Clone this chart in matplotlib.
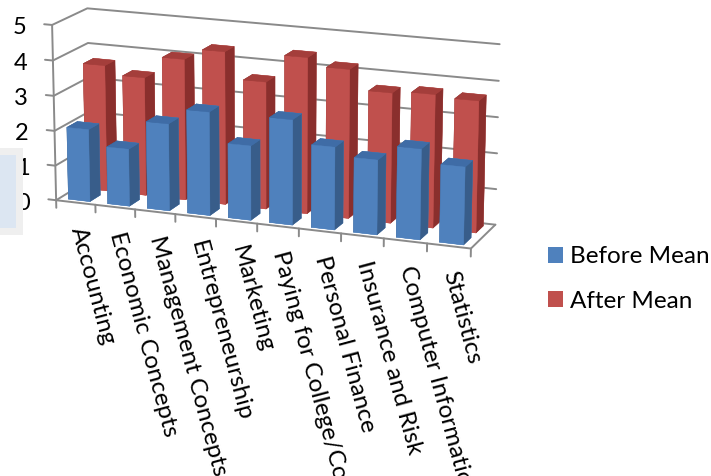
import numpy as np
import matplotlib
matplotlib.use("Agg")
import matplotlib.pyplot as plt
from matplotlib.transforms import offset_copy
from matplotlib.patches import Patch, Rectangle

# ---------------- data ----------------
categories = [
    "Accounting",
    "Economic Concepts",
    "Management Concepts",
    "Entrepreneurship",
    "Marketing",
    "Paying for College/College Costs",
    "Personal Finance",
    "Insurance and Risk",
    "Computer Information Systems",
    "Statistics",
]
series_names = ["Before Mean", "After Mean"]
before_mean = [2.07, 1.63, 2.47, 2.92, 2.09, 2.94, 2.30, 2.07, 2.50, 2.13]
after_mean = [3.63, 3.39, 4.02, 4.34, 3.60, 4.39, 4.17, 3.63, 3.70, 3.64]
value_ticks = [0, 1, 2, 3, 4, 5]

# ---------------- style ----------------
W, H, DPI = 711, 476, 100
plt.rcParams["font.family"] = ["Lato", "DejaVu Sans"]
FS = 17
FS_CAT = 17.5
FS_LEG = 17.5
blue = dict(front="#4F81BD", top="#3F6CA6", side="#385D8A")
red = dict(front="#C0504D", top="#A43E3B", side="#8A2F2D")
grid_c = "#8A8A8A"

fig = plt.figure(figsize=(W / DPI, H / DPI), dpi=DPI)
S0 = 400.0
ax = fig.add_axes([0, 0, S0 / W, S0 / H], projection="3d", computed_zorder=False)
ax.set_proj_type("persp", focal_length=1.0)
ax.view_init(elev=15.1, azim=-68.7)
n = len(categories)
depth = 1.0
zmax = value_ticks[-1]
ax.set_xlim(0, n)
ax.set_ylim(0, depth)
ax.set_zlim(0, zmax)
ax.set_box_aspect((443, 82.6, 184))
ax.set_axis_off()
ax.patch.set_alpha(0)


def project(x, y, z):
    M = ax.get_proj()
    p = M @ np.array([x, y, z, 1.0])
    return p[0] / p[3], p[1] / p[3]


# ---- place the plot box on the canvas (corner -> pixel, y from top) ----
corners = [(0, 0, 0), (n, 0, 0), (0, depth, 0), (n, depth, 0),
           (0, 0, zmax), (0, depth, zmax), (n, depth, zmax)]
corner_px = [(56, 200), (473, 247), (90, 186), (493, 222),
             (50, 25), (90, 13), (500, 37)]
rows_A, rows_b = [], []
for c, (tx, ty) in zip(corners, corner_px):
    d = ax.transData.transform(project(*c)) / S0
    rows_A.append([d[0], 1, 0]); rows_b.append(tx)
    rows_A.append([d[1], 0, 1]); rows_b.append(H - ty)
S, L, B = np.linalg.lstsq(np.array(rows_A), np.array(rows_b), rcond=None)[0]
ax.set_position([L / W, B / H, S / W, S / H])


def line3(pts, **kw):
    xs, ys, zs = zip(*pts)
    ax.plot(xs, ys, zs, **kw)


gkw = dict(color=grid_c, lw=1.4, zorder=1, solid_capstyle="round")
# walls: gridlines on the left and back walls, with value ticks
for v in value_ticks:
    line3([(-0.2, 0, v), (0, 0, v), (0, depth, v), (n, depth, v)], **gkw)
line3([(0, 0, 0), (0, 0, zmax)], **gkw)
# floor outline and category ticks
line3([(0, 0, 0), (n, 0, 0), (n, depth, 0)], **gkw)
for k in range(n + 1):
    line3([(k, 0, 0), (k, 0, -0.22)], **gkw)

# ---- bars ----
bw, bd = 0.55, 0.3
x0 = np.arange(n) + (1 - bw) / 2
xs, ys, hs, fcs = [], [], [], []
for vals, y0, pal in [(before_mean, 0.1, blue), (after_mean, 0.6, red)]:
    for i, v in enumerate(vals):
        xs.append(x0[i]); ys.append(y0); hs.append(v)
        # face order: -z, +z, -y, +y, -x, +x
        fcs += [pal["front"], pal["top"], pal["front"], pal["front"],
                pal["side"], pal["side"]]
ax.bar3d(xs, ys, np.zeros(len(xs)), bw, bd, hs, color=fcs, shade=False,
         edgecolor=fcs, linewidth=0.3, zorder=2)

# ---- value labels ----
for t in value_ticks:
    u, v = project(0, 0, t)
    ax.text2D(u, v, str(t), fontsize=FS, ha="right", va="center",
              transform=offset_copy(ax.transData, fig=fig, x=-26, y=-3, units="dots"))

# ---- category labels ----
for i, name in enumerate(categories):
    u, v = project(i + 0.5, 0, 0)
    ax.text2D(u, v, name, fontsize=FS_CAT, rotation=-75, rotation_mode="anchor",
              ha="left", va="center",
              transform=offset_copy(ax.transData, fig=fig, x=1, y=-25, units="dots"))

# ---- legend ----
handles = [Patch(facecolor=blue["front"]), Patch(facecolor=red["front"])]
fig.legend(handles, series_names, loc="center left",
           bbox_to_anchor=(548 / W, 1 - 279 / H), frameon=False, fontsize=FS_LEG,
           handlelength=0.6, handleheight=0.6, handletextpad=0.3,
           labelspacing=0.95, borderpad=0, borderaxespad=0)

# ---- panel at the left edge ----
fig.add_artist(Rectangle((0, 1 - 235 / H), 23 / W, 87 / H, transform=fig.transFigure,
                         facecolor="#EFEFEF", edgecolor="none", zorder=10))
fig.add_artist(Rectangle((0, 1 - 228 / H), 16 / W, 73 / H, transform=fig.transFigure,
                         facecolor="#DCE6F2", edgecolor="none", zorder=11))

fig.savefig("out.png", dpi=DPI)
